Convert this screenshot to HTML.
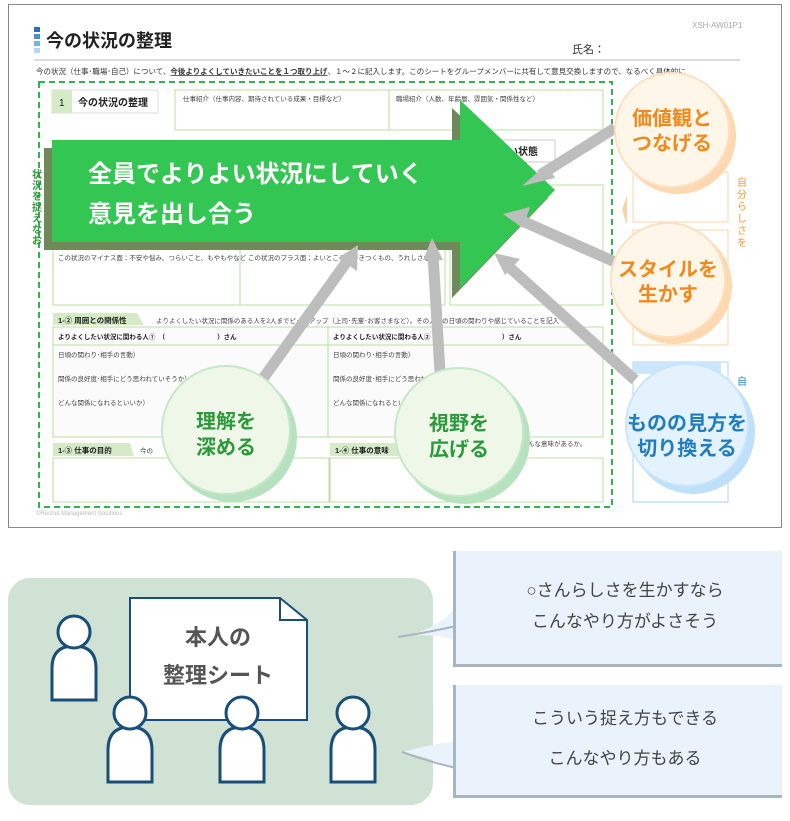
<!DOCTYPE html>
<html><head><meta charset="utf-8"><style>
html,body{margin:0;padding:0;background:#fff}
svg{display:block}
text{font-family:"Liberation Sans","Noto Sans CJK JP",sans-serif}
</style></head><body>
<svg width="790" height="821" viewBox="0 0 790 821" xmlns="http://www.w3.org/2000/svg">
<rect x="8.5" y="4.5" width="773" height="523" fill="#fff" stroke="#888" stroke-width="1"/>
<rect x="34" y="27" width="6" height="5" fill="#2a6fb8"/><rect x="34" y="34" width="6" height="5" fill="#4a90d0"/><rect x="34" y="41" width="6" height="5" fill="#7ab2e0"/><rect x="34" y="48" width="6" height="5" fill="#b6d6f0"/>
<text x="46" y="47" font-size="18" font-weight="bold" fill="#222">今の状況の整理</text>
<text x="692" y="28" font-size="8" fill="#aaa">XSH-AW01P1</text>
<text x="572" y="53" font-size="11" fill="#333">氏名：</text>
<line x1="34" y1="60" x2="740" y2="60" stroke="#bbb"/>
<text x="36" y="74" font-size="7.5" fill="#333">今の状況（仕事･職場･自己）について、<tspan font-weight="bold" text-decoration="underline">今後よりよくしていきたいことを１つ取り上げ</tspan>、１～２に記入します。このシートをグループメンバーに共有して意見交換しますので、なるべく具体的に</text>
<rect x="39" y="82" width="573" height="425" fill="none" stroke="#2fb54a" stroke-width="2" stroke-dasharray="6,4"/>
<text font-size="10" font-weight="bold" fill="#2a9a3a"><tspan x="32" y="178">状</tspan><tspan x="32" y="189">況</tspan><tspan x="32" y="200">を</tspan><tspan x="32" y="211">捉</tspan><tspan x="32" y="222">え</tspan><tspan x="32" y="233">な</tspan><tspan x="32" y="244">お</tspan></text>
<rect x="52" y="90" width="106" height="23" fill="#fff" stroke="#ddd"/><rect x="52" y="90" width="20" height="23" fill="#d5ebc8"/>
<text x="59" y="106" font-size="10" fill="#222">1</text><text x="78" y="106" font-size="10" font-weight="bold" fill="#222">今の状況の整理</text>
<rect x="175" y="90" width="214" height="40" fill="#fff" stroke="#b9dfa0"/><rect x="389" y="90" width="214" height="40" fill="#fff" stroke="#b9dfa0"/>
<text x="183" y="101" font-size="6.5" fill="#444">仕事紹介（仕事内容、期待されている成果・目標など）</text>
<text x="396" y="101" font-size="6.5" fill="#444">職場紹介（人数、年齢層、雰囲気・関係性など）</text>
<rect x="53" y="245" width="187" height="60" fill="#fff" stroke="#b9dfa0"/><rect x="240" y="245" width="205" height="60" fill="#fff" stroke="#b9dfa0"/><rect x="450" y="185" width="153" height="120" fill="#fff" stroke="#b9dfa0"/>
<text x="58" y="260" font-size="6.5" fill="#444">この状況のマイナス面：不安や悩み、つらいこと、もやもやなど</text>
<text x="248" y="260" font-size="6.5" fill="#444">この状況のプラス面：よいところ、ひきつくもの、うれしさなど</text>
<rect x="455" y="140" width="100" height="22" fill="#fff" stroke="#ccc"/><text x="508" y="155" font-size="10" font-weight="bold" fill="#222">い状態</text>
<text x="515" y="172" font-size="6" fill="#444">いか</text><text x="505" y="180" font-size="6" fill="#444">をふまえて</text>
<polygon points="53,313 137,313 144,325 53,325" fill="#d5ebc8"/>
<text x="58" y="323" font-size="7.5" font-weight="bold" fill="#222">1-② 周囲との関係性</text>
<text x="156" y="323" font-size="6.5" fill="#444">よりよくしたい状況に関係のある人を2人までピックアップ（上司･先輩･お客さまなど）。その人との日頃の関わりや感じていることを記入</text>
<rect x="53" y="327" width="550" height="110" fill="#fbfbfb" stroke="#b9dfa0"/><line x1="53" y1="345" x2="603" y2="345" stroke="#b9dfa0"/><line x1="328" y1="327" x2="328" y2="437" stroke="#b9dfa0"/>
<text x="58" y="339" font-size="6.5" font-weight="bold" fill="#222">よりよくしたい状況に関わる人①　（　　　　　　　　）さん</text>
<text x="333" y="339" font-size="6.5" font-weight="bold" fill="#222">よりよくしたい状況に関わる人②　　　　　　　　　　　）さん</text>
<text font-size="6.5" fill="#444"><tspan x="58" y="357">日頃の関わり･相手の言動）</tspan><tspan x="58" y="381">関係の良好度･相手にどう思われていそうか）</tspan><tspan x="58" y="405">どんな関係になれるといいか）</tspan><tspan x="333" y="357">日頃の関わり･相手の言動）</tspan><tspan x="333" y="381">関係の良好度･相手にどう思われ</tspan><tspan x="333" y="405">どんな関係になれるといいか</tspan></text>
<polygon points="53,443 130,443 134,456 53,456" fill="#d5ebc8"/><polygon points="330,443 400,443 404,456 330,456" fill="#d5ebc8"/>
<text x="58" y="453" font-size="7.5" font-weight="bold" fill="#222">1-③ 仕事の目的</text><text x="140" y="453" font-size="6.5" fill="#444">今の</text>
<text x="335" y="453" font-size="7.5" font-weight="bold" fill="#222">1-④ 仕事の意味</text><text x="528" y="446" font-size="6.5" fill="#444">んな意味があるか。</text>
<rect x="53" y="458" width="276" height="44" fill="#fff" stroke="#b9dfa0"/><rect x="330" y="458" width="273" height="44" fill="#fff" stroke="#b9dfa0"/>
<text x="36" y="515" font-size="6" fill="#bbb">©Recruit Management Solutions</text>
<rect x="633" y="172" width="95" height="50" fill="#fff" stroke="#fcd3a8"/><rect x="633" y="230" width="95" height="115" fill="#fff" stroke="#fcd3a8"/>
<polygon points="627,195 622,210 627,225" fill="#fcd3a8"/>
<text font-size="10" fill="#f39a3a"><tspan x="737" y="186">自</tspan><tspan x="737" y="198">分</tspan><tspan x="737" y="210">ら</tspan><tspan x="737" y="222">し</tspan><tspan x="737" y="234">さ</tspan><tspan x="737" y="246">を</tspan></text>
<rect x="633" y="362" width="95" height="140" fill="#fff" stroke="#a9d2f3"/><rect x="633" y="362" width="88" height="12" fill="#cde6fb"/>
<text x="737" y="385" font-size="10" fill="#2f86c9">自</text>
<polygon points="44,148 452,148 452,108 548,198 452,298 452,250 44,250" fill="#6f8a5a"/>
<polygon points="52,140 460,140 460,100 555,190 460,288 460,242 52,242" fill="#33c653"/>
<text x="88" y="182" font-size="24" font-weight="bold" fill="#fff">全員でよりよい状況にしていく</text>
<text x="88" y="222" font-size="24" font-weight="bold" fill="#fff">意見を出し合う</text>
<g stroke="#bdbdbd" stroke-width="11" fill="#bdbdbd">
<line x1="615" y1="128" x2="540" y2="175"/><line x1="615" y1="262" x2="520" y2="220"/><line x1="635" y1="380" x2="508" y2="266"/><line x1="262" y1="380" x2="348" y2="260"/><line x1="440" y1="372" x2="433" y2="255"/>
</g>
<g fill="#bdbdbd">
<polygon points="522,186 547,164 555,178"/><polygon points="503,214 530,207 523,228"/><polygon points="494,253 520,259 505,275"/><polygon points="358,245 357,271 338,258"/><polygon points="432,238 443,260 423,260"/>
</g>
<circle cx="678" cy="136" r="58" fill="#fdd8b0"/><circle cx="672" cy="130" r="57" fill="#fff6ea" stroke="#fde0c0" stroke-width="2"/>
<text x="672" y="125" font-size="20" font-weight="bold" fill="#f08a1c" text-anchor="middle">価値観と</text><text x="672" y="150" font-size="20" font-weight="bold" fill="#f08a1c" text-anchor="middle">つなげる</text>
<circle cx="674" cy="286" r="58" fill="#fdd8b0"/><circle cx="668" cy="280" r="57" fill="#fff6ea" stroke="#fde0c0" stroke-width="2"/>
<text x="668" y="276" font-size="20" font-weight="bold" fill="#f08a1c" text-anchor="middle">スタイルを</text><text x="668" y="301" font-size="20" font-weight="bold" fill="#f08a1c" text-anchor="middle">生かす</text>
<circle cx="693" cy="432" r="62" fill="#bfe0fa"/><circle cx="687" cy="425" r="61" fill="#e4f2fd" stroke="#c9e5fb" stroke-width="2"/>
<text x="687" y="430" font-size="20" font-weight="bold" fill="#1f7dc0" text-anchor="middle">ものの見方を</text><text x="687" y="455" font-size="20" font-weight="bold" fill="#1f7dc0" text-anchor="middle">切り換える</text>
<circle cx="232" cy="437" r="65" fill="#b6e2bf"/><circle cx="226" cy="430" r="64" fill="#eff8e8" stroke="#c5e8c8" stroke-width="2"/>
<text x="226" y="428" font-size="20" font-weight="bold" fill="#2a9a3a" text-anchor="middle">理解を</text><text x="226" y="454" font-size="20" font-weight="bold" fill="#2a9a3a" text-anchor="middle">深める</text>
<circle cx="465" cy="439" r="65" fill="#b6e2bf"/><circle cx="459" cy="432" r="64" fill="#eff8e8" stroke="#c5e8c8" stroke-width="2"/>
<text x="459" y="430" font-size="20" font-weight="bold" fill="#2a9a3a" text-anchor="middle">視野を</text><text x="459" y="456" font-size="20" font-weight="bold" fill="#2a9a3a" text-anchor="middle">広げる</text>
<rect x="8" y="578" width="425" height="227" rx="22" fill="#cfe2d3"/>
<path d="M398,637 Q440,630 456,606 L456,640 Q430,632 398,637 Z" fill="#eaf3fb"/>
<path d="M398,637 Q430,632 456,626" stroke="#a8b6c2" stroke-width="2" fill="none"/>
<path d="M402,752 Q440,742 456,742 L456,770 Q440,760 402,752 Z" fill="#eaf3fb"/>
<path d="M402,752 Q430,762 456,768" stroke="#a8b6c2" stroke-width="2" fill="none"/>
<rect x="453" y="551" width="329" height="115" fill="#eaf3fb"/><rect x="453" y="551" width="3" height="115" fill="#a8b6c2"/><rect x="453" y="664" width="329" height="3" fill="#a8b6c2"/>
<rect x="453" y="685" width="329" height="112" fill="#eaf3fb"/><rect x="453" y="685" width="3" height="112" fill="#a8b6c2"/><rect x="453" y="795" width="329" height="3" fill="#a8b6c2"/>
<text x="625" y="596" font-size="17" fill="#444" text-anchor="middle">○さんらしさを生かすなら</text>
<text x="625" y="627" font-size="17" fill="#444" text-anchor="middle">こんなやり方がよさそう</text>
<text x="625" y="724" font-size="17" fill="#444" text-anchor="middle">こういう捉え方もできる</text>
<text x="625" y="764" font-size="17" fill="#444" text-anchor="middle">こんなやり方もある</text>
<polygon points="130,598 280,598 307,620 307,720 130,720" fill="#fff" stroke="#1a4e7a" stroke-width="2"/>
<polyline points="280,598 280,620 307,620" fill="none" stroke="#1a4e7a" stroke-width="2"/>
<text x="218" y="645" font-size="22" font-weight="bold" fill="#555" text-anchor="middle">本人の</text>
<text x="218" y="683" font-size="22" font-weight="bold" fill="#555" text-anchor="middle">整理シート</text>
<g fill="#fff" stroke="#1a4e7a" stroke-width="3">
<path d="M52,700 L52,668 Q52,646 74,646 Q96,646 96,668 L96,700 Z"/><ellipse cx="74" cy="632" rx="16" ry="16"/>
<path d="M108,782 L108,750 Q108,727 130,727 Q152,727 152,750 L152,782 Z"/><ellipse cx="130" cy="713" rx="16" ry="16"/>
<path d="M220,782 L220,750 Q220,727 242,727 Q264,727 264,750 L264,782 Z"/><ellipse cx="242" cy="713" rx="16" ry="16"/>
<path d="M331,782 L331,750 Q331,727 353,727 Q375,727 375,750 L375,782 Z"/><ellipse cx="353" cy="713" rx="16" ry="16"/>
</g>
</svg>
</body></html>
